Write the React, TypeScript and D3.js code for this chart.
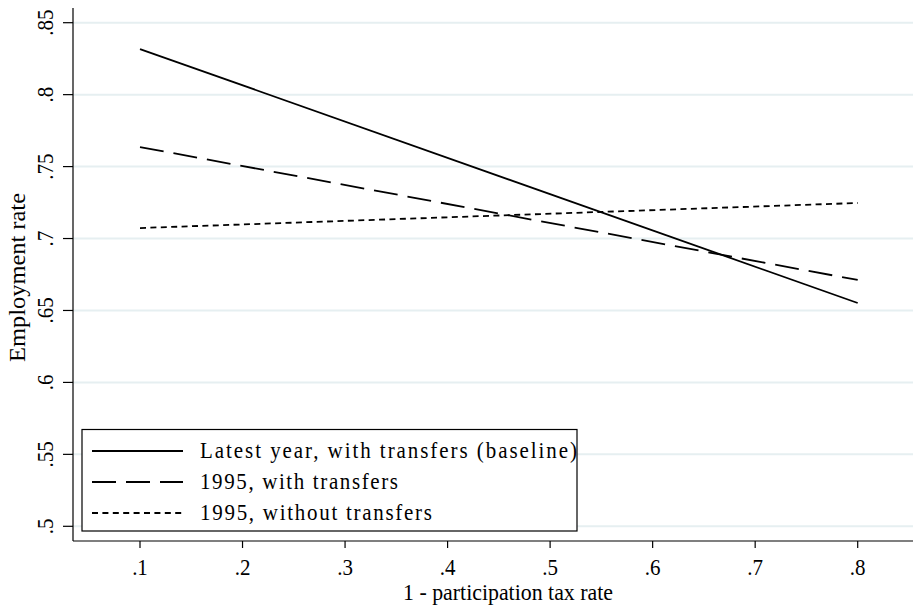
import React from "react";
import * as d3 from "d3";

const xValues = [0.1, 0.8];
const latestWith = [0.8317, 0.6552];
const with1995 = [0.7636, 0.6712];
const without1995 = [0.7073, 0.7247];
const seriesNames = [
  "Latest year, with transfers (baseline)",
  "1995, with transfers",
  "1995, without transfers",
];
const xTicks = [0.1, 0.2, 0.3, 0.4, 0.5, 0.6, 0.7, 0.8];
const yTicks = [0.5, 0.55, 0.6, 0.65, 0.7, 0.75, 0.8, 0.85];

const W = 913;
const H = 606;
const FONT = "Liberation Serif";

const fmt = (v: number) => {
  const s = d3.format(".2~f")(v);
  return s.replace(/^0/, "");
};

export default function App() {
  const x = d3.scaleLinear().domain([0.1, 0.8]).range([140, 857.7]);
  const y = d3.scaleLinear().domain([0.5, 0.85]).range([526.3, 22.7]);
  const axisX = 73;
  const axisY = 541;

  const line = d3
    .line<[number, number]>()
    .x((d) => x(d[0]))
    .y((d) => y(d[1]));

  const series = [
    { name: seriesNames[0], vals: latestWith, dash: "none", len: 377 },
    { name: seriesNames[1], vals: with1995, dash: "24,10", len: 198 },
    { name: seriesNames[2], vals: without1995, dash: "6,4.4", len: 232 },
  ];

  return (
    <svg
      width={W}
      height={H}
      style={{ position: "absolute", left: 0, top: 0, background: "#fff", fontFamily: FONT }}
    >
      <rect x={0} y={0} width={W} height={H} fill="#fff" />
      {yTicks.map((t) => (
        <line
          key={"g" + t}
          x1={axisX}
          x2={W}
          y1={y(t)}
          y2={y(t)}
          stroke="#e6eff1"
          strokeWidth={2}
        />
      ))}
      <line x1={axisX} x2={axisX} y1={8} y2={axisY} stroke="#000" strokeWidth={1.2} />
      <line x1={axisX} x2={W} y1={axisY} y2={axisY} stroke="#000" strokeWidth={1.2} />
      {yTicks.map((t) => (
        <g key={"yt" + t}>
          <line x1={axisX - 10} x2={axisX} y1={y(t)} y2={y(t)} stroke="#000" strokeWidth={1.2} />
          <text
            transform={`translate(53,${y(t)}) rotate(-90) scale(1,1.12)`}
            textAnchor="middle"
            fontSize={21}
            style={{ fontFamily: FONT }}
          >
            {fmt(t)}
          </text>
        </g>
      ))}
      {xTicks.map((t) => (
        <g key={"xt" + t}>
          <line x1={x(t)} x2={x(t)} y1={axisY} y2={axisY + 7} stroke="#000" strokeWidth={1.2} />
          <text
            transform={`translate(${x(t)},575) scale(1,1.12)`}
            textAnchor="middle"
            fontSize={21}
            style={{ fontFamily: FONT }}
          >
            {fmt(t)}
          </text>
        </g>
      ))}
      <text
        transform={`translate(25,277.5) rotate(-90) scale(1,1.12)`}
        textAnchor="middle"
        fontSize={21}
        textLength={169}
        lengthAdjust="spacingAndGlyphs"
        style={{ fontFamily: FONT }}
      >
        Employment rate
      </text>
      <text
        transform={`translate(508,600) scale(1,1.12)`}
        textAnchor="middle"
        fontSize={21}
        textLength={210}
        lengthAdjust="spacingAndGlyphs"
        style={{ fontFamily: FONT }}
      >
        1 - participation tax rate
      </text>
      {series.map((s) => (
        <path
          key={s.name}
          d={line(xValues.map((v, i) => [v, s.vals[i]] as [number, number])) || ""}
          fill="none"
          stroke="#000"
          strokeWidth={1.8}
          strokeDasharray={s.dash}
        />
      ))}
      <rect x={82} y={429.5} width={495} height={101.5} fill="#fff" stroke="#000" strokeWidth={1.2} />
      {series.map((s, i) => {
        const ly = 451 + i * 31;
        return (
          <g key={"lg" + i}>
            <line x1={92} x2={183} y1={ly} y2={ly} stroke="#000" strokeWidth={1.8} strokeDasharray={s.dash} />
            <text
              transform={`translate(200,${ly + 7}) scale(1,1.12)`}
              fontSize={21}
              textLength={s.len}
              lengthAdjust="spacing"
              style={{ fontFamily: FONT }}
            >
              {s.name}
            </text>
          </g>
        );
      })}
    </svg>
  );
}
